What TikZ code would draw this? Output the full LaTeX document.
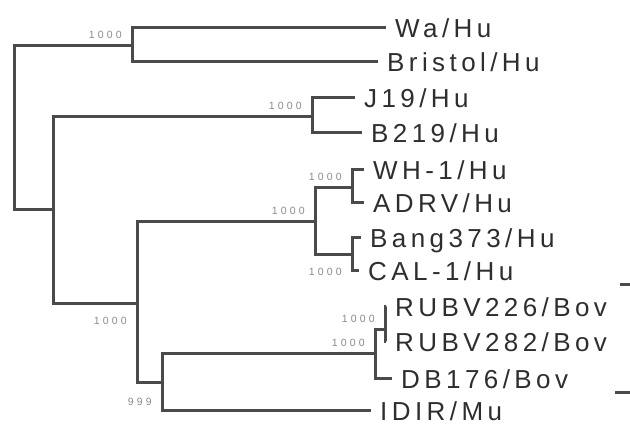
\documentclass[tikz,border=0pt]{standalone}
\usepackage{fontspec}
\setmainfont{Liberation Sans}
\newfontfamily\leaffont[LetterSpace=17]{Liberation Sans}
\newfontfamily\bootfont[LetterSpace=30]{Liberation Sans}
\usetikzlibrary{positioning}
\definecolor{treeline}{HTML}{4A4A4A}
\definecolor{leaftext}{HTML}{2E2E2E}
\definecolor{boottext}{HTML}{8C8C8C}

\begin{document}
\begin{tikzpicture}[x=1pt, y=-1pt]
            % Define styles
            \tikzstyle{branch} = [draw=treeline, line width=3pt]
            \tikzstyle{leaf} = [anchor=west, inner xsep=9pt, inner ysep=0pt, text height=18.5pt, text depth=0pt, text=leaftext, font=\leaffont\fontsize{26}{30}\selectfont]
            \tikzstyle{boot} = [inner sep=0pt, text=boottext, font=\bootfont\fontsize{10.5}{12}\selectfont]

            \useasboundingbox[fill=white] (0,0) rectangle (630,427);

            % Internal nodes
            \coordinate (root) at (14,128);
            \coordinate (waclade) at (132,46);
            \coordinate (rest) at (53,210);
            \coordinate (jclade) at (312,117);
            \coordinate (lower) at (137,304);
            \coordinate (whclade) at (315,222);
            \coordinate (whpair) at (352,188);
            \coordinate (bangpair) at (352,255);
            \coordinate (animal) at (162,383);
            \coordinate (bovclade) at (375,354);
            \coordinate (rubvpair) at (385,330);

            % Leaves
            \node (wa) [leaf] at (386,28) {Wa/Hu};
            \node (bristol) [leaf] at (378,62) {Bristol/Hu};
            \node (j19) [leaf] at (355,98) {J19/Hu};
            \node (b219) [leaf] at (362,133) {B219/Hu};
            \node (wh1) [leaf] at (364,170) {WH-1/Hu};
            \node (adrv) [leaf] at (364,203) {ADRV/Hu};
            \node (bang) [leaf] at (361,238) {Bang373/Hu};
            \node (cal) [leaf] at (359,271) {CAL-1/Hu};
            \node (rubv226) [leaf] at (386,307) {RUBV226/Bov};
            \node (rubv282) [leaf] at (386,342) {RUBV282/Bov};
            \node (db176) [leaf] at (392,379) {DB176/Bov};
            \node (idir) [leaf] at (371,411) {IDIR/Mu};

            % Bootstrap values
            \node (bwa) [boot, above left=7pt and 10pt of waclade] {1000};
            \node (bj) [boot, above left=7pt and 10pt of jclade] {1000};
            \node (blower) [boot, below left=13pt and 10pt of lower] {1000};
            \node (bwh) [boot, above left=7pt and 10pt of whclade] {1000};
            \node (bwhpair) [boot, above left=7pt and 10pt of whpair] {1000};
            \node (bbang) [boot, below left=13pt and 10pt of bangpair] {1000};
            \node (banimal) [boot, below left=15pt and 10pt of animal] {999};
            \node (bbov) [boot, above left=7pt and 10pt of bovclade] {1000};
            \node (brubv) [boot, above left=7pt and 10pt of rubvpair] {1000};

            % Cut-off bracket at the right edge
            \coordinate (cut1) at (620,285);
            \coordinate (cut1end) at (630,285);
            \coordinate (cut2) at (615,393);
            \coordinate (cut2end) at (630,393);

            % Tree branches
            \draw [branch] (root) |- (waclade);
            \draw [branch] (root) |- (rest);
            \draw [branch] (waclade) |- (wa.west);
            \draw [branch] (waclade) |- (bristol.west);
            \draw [branch] (rest) |- (jclade);
            \draw [branch] (rest) |- (lower);
            \draw [branch] (jclade) |- (j19.west);
            \draw [branch] (jclade) |- (b219.west);
            \draw [branch] (lower) |- (whclade);
            \draw [branch] (lower) |- (animal);
            \draw [branch] (whclade) |- (whpair);
            \draw [branch] (whclade) |- (bangpair);
            \draw [branch] (whpair) |- (wh1.west);
            \draw [branch] (whpair) |- (adrv.west);
            \draw [branch] (bangpair) |- (bang.west);
            \draw [branch] (bangpair) |- (cal.west);
            \draw [branch] (animal) |- (bovclade);
            \draw [branch] (animal) |- (idir.west);
            \draw [branch] (bovclade) |- (rubvpair);
            \draw [branch] (bovclade) |- (db176.west);
            \draw [branch] (rubvpair) |- (rubv226.west);
            \draw [branch] (rubvpair) |- (rubv282.west);

            \draw [branch] (cut1) -- (cut1end);
            \draw [branch] (cut2) -- (cut2end);

      \end{tikzpicture}
\end{document}
